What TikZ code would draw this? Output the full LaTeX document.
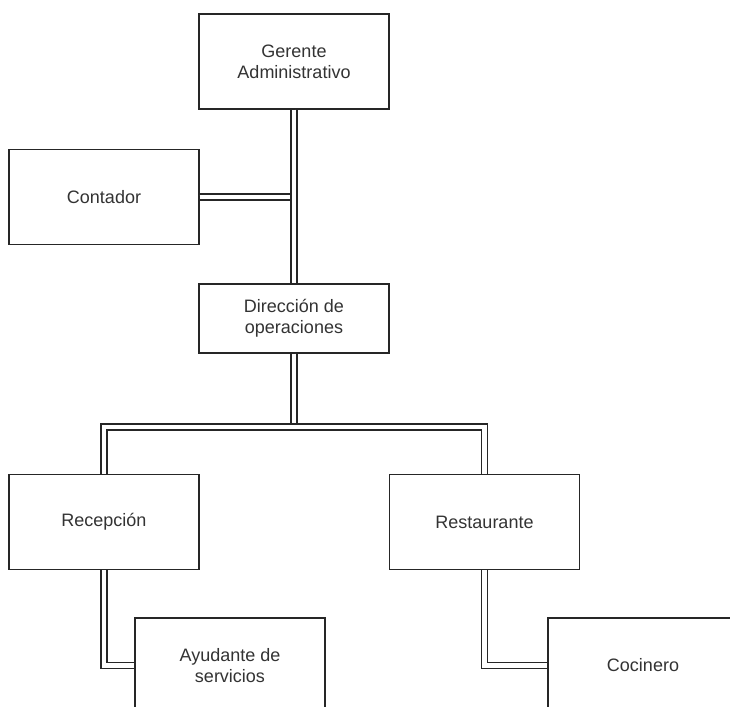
\documentclass[tikz,border=0pt]{standalone}
\usepackage{fontspec}
\setmainfont{Liberation Sans}
\definecolor{txt}{HTML}{333333}
\tikzset{
  box/.style={draw=black!85, line width=1.4pt, fill=white, rectangle, minimum width=190pt, minimum height=95pt, inner sep=0pt, align=center, font=\fontsize{18pt}{21pt}\selectfont, text=txt},
  link/.style={double=white, draw=black!85, line width=1.3pt, double distance=4.6pt, line join=miter}
}
\begin{document}
\begin{tikzpicture}[x=1pt,y=-1pt]
\clip (0,0) rectangle (730,706);
\fill[white] (0,0) rectangle (730,706);
\node[box] (ger) at (294,61.5) {Gerente\\Administrativo};
\node[box] (cont) at (104,197) {Contador};
\node[box, minimum height=69pt] (dir) at (294,318.5) {Dirección de\\operaciones};
\node[box] (rec) at (104,522) {Recepción};
\node[box] (rest) at (484.5,522) {Restaurante};
\node[box] (ayu) at (230,665.5) {Ayudante de\\servicios};
\node[box] (coc) at (643,665.5) {Cocinero};
\coordinate (bus) at (294,427);
\coordinate (jc) at (294,197);
% connectors
\draw[link] (cont.east) -- (jc);
\draw[link] (ger.south) -- (dir.north);
\draw[link] (dir.south) -- (bus);
\draw[link] (rec.north) |- (bus) -| (rest.north);
\draw[link] (rec.south) |- (ayu.west);
\draw[link] (rest.south) |- (coc.west);
\end{tikzpicture}
\end{document}
